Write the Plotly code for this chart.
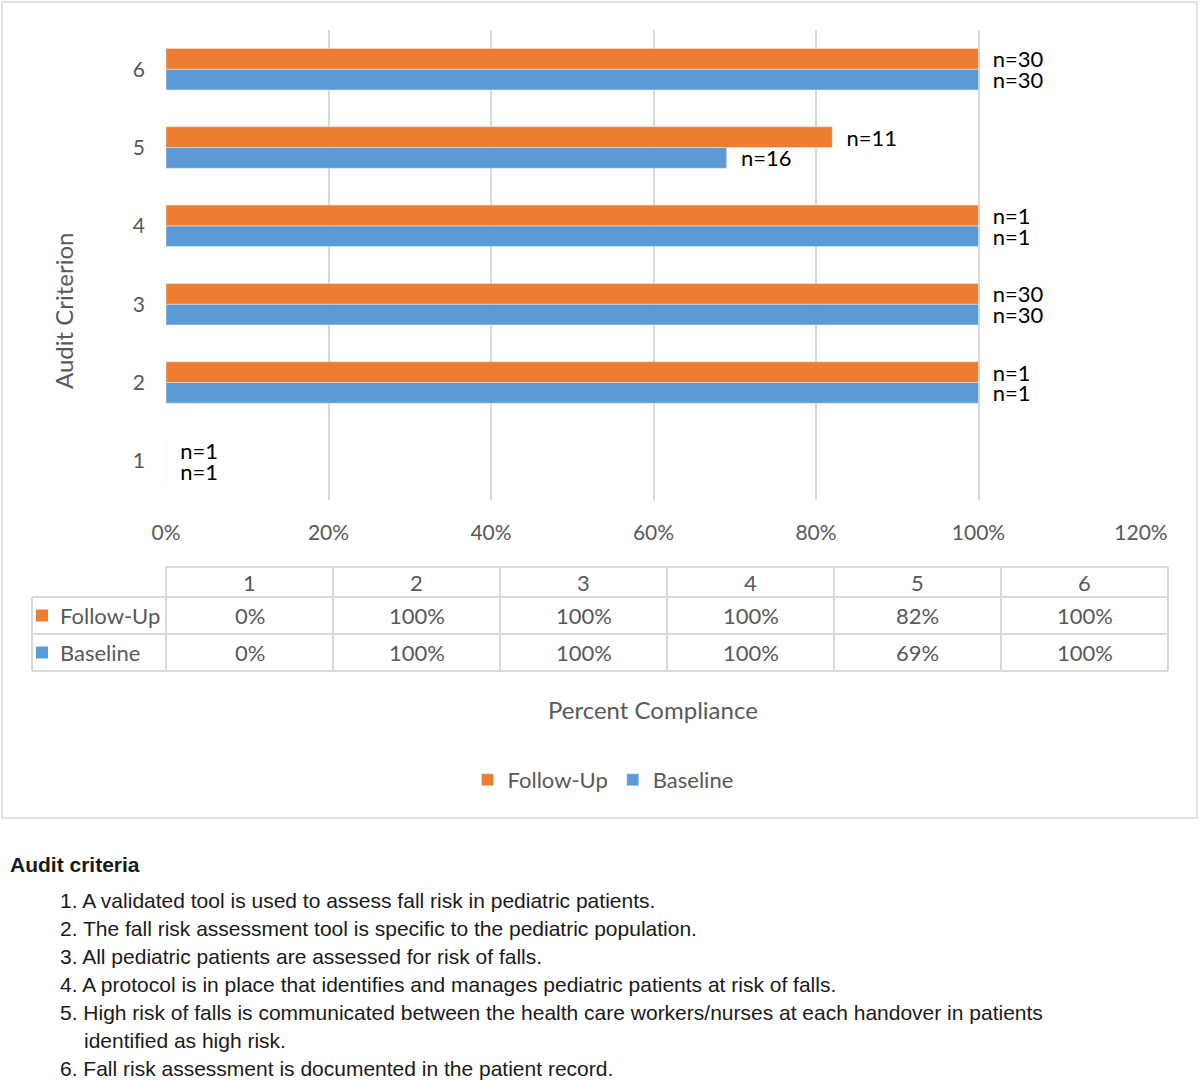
import plotly.graph_objects as go

# ---------------- data ----------------
criteria = ["1", "2", "3", "4", "5", "6"]
baseline = [0.0, 1.0, 1.0, 1.0, 0.69, 1.0]
followup = [0.0, 1.0, 1.0, 1.0, 0.82, 1.0]
baseline_n = ["n=1", "n=1", "n=30", "n=1", "n=16", "n=30"]
followup_n = ["n=1", "n=1", "n=30", "n=1", "n=11", "n=30"]
series_names = ["Follow-Up", "Baseline"]
x_ticks = [0, 0.2, 0.4, 0.6, 0.8, 1.0, 1.2]
criteria_text = [
    "1. A validated tool is used to assess fall risk in pediatric patients.",
    "2. The fall risk assessment tool is specific to the pediatric population.",
    "3. All pediatric patients are assessed for risk of falls.",
    "4. A protocol is in place that identifies and manages pediatric patients at risk of falls.",
    "5. High risk of falls is communicated between the health care workers/nurses at each handover in patients",
    "    identified as high risk.",
    "6. Fall risk assessment is documented in the patient record.",
]

ORANGE = "#ED7D31"
BLUE = "#5B9BD5"
GRAY_TXT = "#595959"
GRID = "#D9D9D9"
CHART_FONT = "Lato"

W, H = 1200, 1080


def X(px):
    return px / W


def Y(py):
    return 1 - py / H


label_font = dict(family=CHART_FONT, size=22, color="#000000")

fig = go.Figure()
fig.add_trace(go.Bar(
    y=criteria, x=baseline, orientation="h", name="Baseline",
    marker=dict(color=BLUE), text=baseline_n, texttemplate="\u00a0\u00a0%{text}",
    textposition="outside", constraintext="none", textfont=label_font,
    cliponaxis=False, hoverinfo="skip"))
fig.add_trace(go.Bar(
    y=criteria, x=followup, orientation="h", name="Follow-Up",
    marker=dict(color=ORANGE), text=followup_n, texttemplate="\u00a0\u00a0%{text}",
    textposition="outside", constraintext="none", textfont=label_font,
    cliponaxis=False, hoverinfo="skip"))

shapes = []
annotations = []


def note(x, y, text, font, xanchor="center", yanchor="middle", **kw):
    d = dict(x=X(x), y=Y(y), xref="paper", yref="paper", text=text, showarrow=False,
             font=font, xanchor=xanchor, yanchor=yanchor)
    d.update(kw)
    annotations.append(d)


# outer chart border
shapes.append(dict(type="rect", xref="paper", yref="paper",
                   x0=X(2), x1=X(1197), y0=Y(818), y1=Y(2),
                   line=dict(color=GRID, width=1.5), layer="below"))

# ---------------- data table ----------------
col_left = 166
col_w = 167
label_left = 32
row_y = [567, 597, 634, 671]
ncol = len(criteria)
table_right = col_left + ncol * col_w
lc = dict(color=GRID, width=2)
shapes.append(dict(type="line", xref="paper", yref="paper", x0=X(col_left), x1=X(table_right),
                   y0=Y(row_y[0]), y1=Y(row_y[0]), line=lc))
for ry in row_y[1:]:
    shapes.append(dict(type="line", xref="paper", yref="paper", x0=X(label_left), x1=X(table_right),
                       y0=Y(ry), y1=Y(ry), line=lc))
shapes.append(dict(type="line", xref="paper", yref="paper", x0=X(label_left), x1=X(label_left),
                   y0=Y(row_y[1]), y1=Y(row_y[3]), line=lc))
for i in range(ncol + 1):
    cx = col_left + i * col_w
    shapes.append(dict(type="line", xref="paper", yref="paper", x0=X(cx), x1=X(cx),
                       y0=Y(row_y[0]), y1=Y(row_y[3]), line=lc))

tfont = dict(family=CHART_FONT, size=22, color=GRAY_TXT)
for i, c in enumerate(criteria):
    cx = col_left + (i + 0.5) * col_w
    note(cx, (row_y[0] + row_y[1]) / 2, c, tfont)
    note(cx, (row_y[1] + row_y[2]) / 2, f"{round(followup[i] * 100)}%", tfont)
    note(cx, (row_y[2] + row_y[3]) / 2, f"{round(baseline[i] * 100)}%", tfont)

for r, (name, color) in enumerate(zip(series_names, [ORANGE, BLUE])):
    cy = (row_y[r + 1] + row_y[r + 2]) / 2
    shapes.append(dict(type="rect", xref="paper", yref="paper",
                       x0=X(36), x1=X(48), y0=Y(cy + 6), y1=Y(cy - 6),
                       fillcolor=color, line=dict(width=0)))
    note(58, cy, name, tfont, xanchor="left")

# axis titles
note(653, 709, "Percent Compliance", dict(family=CHART_FONT, size=24, color=GRAY_TXT))
note(63, 311, "Audit Criterion", dict(family=CHART_FONT, size=24, color=GRAY_TXT), textangle=-90)

# ---------------- criteria text ----------------
txt_font = dict(family="Liberation Sans", size=21, color="#1a1a1a")
note(8, 864, "<b>Audit criteria</b>", txt_font, xanchor="left")
for k, line in enumerate(criteria_text):
    indent = 58
    txt = line
    if line.startswith("    "):
        indent = 82
        txt = line.strip()
    note(indent, 900 + 28 * k, txt, txt_font, xanchor="left")

fig.update_layout(
    width=W, height=H, margin=dict(l=0, r=0, t=0, b=0, pad=0, autoexpand=False),
    autosize=False,
    paper_bgcolor="white", plot_bgcolor="white",
    barmode="group", bargap=0.47, bargroupgap=0,
    font=dict(family=CHART_FONT, color=GRAY_TXT),
    xaxis=dict(domain=[X(166), X(1141)], range=[0, 1.2], tickvals=x_ticks, tickformat=".0%",
               showgrid=True, gridcolor=GRID, gridwidth=1.5, zeroline=False, showline=False,
               ticks="", ticklabelstandoff=18, automargin=False,
               tickfont=dict(family=CHART_FONT, size=21, color=GRAY_TXT), fixedrange=True),
    yaxis=dict(domain=[Y(500), Y(30)], type="category", categoryorder="array", categoryarray=criteria,
               showgrid=False, zeroline=False, showline=False, ticks="", ticklabelstandoff=20,
               automargin=False,
               tickfont=dict(family=CHART_FONT, size=21, color=GRAY_TXT), fixedrange=True),
    showlegend=True,
    legend=dict(orientation="h", traceorder="reversed", x=X(603), xanchor="center",
                y=Y(780), yanchor="middle", font=dict(family=CHART_FONT, size=22, color=GRAY_TXT),
                itemwidth=30, bgcolor="rgba(0,0,0,0)"),
    shapes=shapes, annotations=annotations,
)

fig.write_html("out.html")
